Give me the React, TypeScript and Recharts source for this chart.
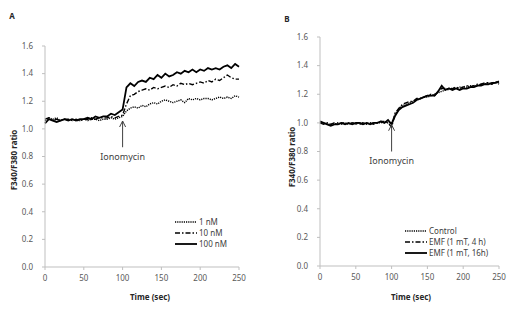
import { LineChart, Line, XAxis, YAxis, ReferenceLine, ReferenceDot, Legend } from 'recharts';

const time = [
  0, 5, 10, 15, 20, 25, 30, 35, 40, 45, 50, 55, 60, 65, 70, 75, 80, 85, 90, 95, 100,
  105, 110, 115, 120, 125, 130, 135, 140, 145, 150, 155, 160, 165, 170, 175, 180, 185, 190, 195, 200,
  205, 210, 215, 220, 225, 230, 235, 240, 245, 250,
];

// panel A: ionomycin doses
const nM1 = [
  1.06, 1.08, 1.07, 1.08, 1.06, 1.07, 1.06, 1.07, 1.06, 1.06, 1.07, 1.06, 1.07, 1.07, 1.06, 1.07, 1.07, 1.08, 1.07, 1.08, 1.09,
  1.13, 1.15, 1.16, 1.15, 1.17, 1.16, 1.18, 1.19, 1.18, 1.2, 1.21, 1.2, 1.19, 1.2, 1.21, 1.19, 1.22, 1.21, 1.22, 1.21,
  1.22, 1.22, 1.21, 1.22, 1.23, 1.22, 1.23, 1.22, 1.24, 1.23,
];
const nM10 = [
  1.07, 1.08, 1.06, 1.07, 1.06, 1.07, 1.07, 1.06, 1.07, 1.06, 1.07, 1.07, 1.08, 1.07, 1.08, 1.08, 1.08, 1.09, 1.08, 1.09, 1.1,
  1.18, 1.24, 1.25, 1.27, 1.28, 1.29, 1.28, 1.3, 1.29, 1.3, 1.31, 1.3, 1.32, 1.31, 1.33, 1.32, 1.33, 1.32, 1.33, 1.34,
  1.33, 1.35, 1.34, 1.36, 1.35, 1.37, 1.39, 1.37, 1.36, 1.36,
];
const nM100 = [
  1.04, 1.07, 1.06, 1.05, 1.06, 1.07, 1.06, 1.07, 1.06, 1.07, 1.07, 1.08, 1.07, 1.09, 1.08, 1.09, 1.09, 1.11, 1.1, 1.12, 1.14,
  1.3, 1.33, 1.31, 1.34, 1.35, 1.34, 1.37, 1.36, 1.39, 1.37, 1.4, 1.38, 1.39, 1.41, 1.4, 1.42, 1.41, 1.43, 1.41, 1.43,
  1.42, 1.44, 1.43, 1.44, 1.43, 1.45, 1.46, 1.44, 1.47, 1.45,
];

// panel B: EMF exposure
const control = [
  1.0, 1.0, 0.99, 0.99, 0.99, 1.0, 0.99, 1.0, 0.99, 1.0, 0.99, 1.0, 1.0, 0.99, 1.0, 1.0, 1.0, 1.0, 1.01, 1.0, 1.0,
  1.06, 1.1, 1.12, 1.13, 1.14, 1.15, 1.16, 1.17, 1.18, 1.18, 1.19, 1.2, 1.21, 1.22, 1.23, 1.24, 1.24, 1.24, 1.25, 1.25,
  1.25, 1.26, 1.26, 1.26, 1.27, 1.27, 1.28, 1.27, 1.28, 1.28,
];
const emf4h = [
  1.0, 0.99, 1.0, 0.99, 1.0, 0.99, 1.0, 1.0, 0.99, 1.0, 1.0, 0.99, 1.0, 1.0, 1.0, 0.99, 1.0, 1.01, 1.01, 1.0, 0.97,
  1.07, 1.1, 1.13, 1.14, 1.15, 1.15, 1.17, 1.17, 1.18, 1.19, 1.2, 1.19, 1.22, 1.24, 1.24, 1.23, 1.24, 1.25, 1.24, 1.25,
  1.26, 1.25, 1.26, 1.27, 1.27, 1.28, 1.28, 1.27, 1.29, 1.27,
];
const emf16h = [
  1.01, 1.0, 0.99, 0.98, 0.99, 0.99, 1.0, 0.99, 1.0, 0.99, 1.0, 1.0, 0.99, 1.0, 0.99, 1.0, 1.0, 1.01, 1.0, 1.02, 0.99,
  1.05, 1.09, 1.11, 1.12, 1.13, 1.14, 1.16, 1.17, 1.18, 1.19, 1.19, 1.19, 1.22, 1.26, 1.23, 1.24, 1.23, 1.24, 1.23, 1.24,
  1.24, 1.25, 1.25, 1.26, 1.26, 1.27, 1.27, 1.28, 1.28, 1.29,
];

const xTicks = [0, 50, 100, 150, 200, 250];
const yTicks = [0, 0.2, 0.4, 0.6, 0.8, 1.0, 1.2, 1.4, 1.6];
const labelsA = ['1 nM', '10 nM', '100 nM'];
const labelsB = ['Control', 'EMF (1 mT, 4 h)', 'EMF (1 mT, 16h)'];
const ionoTime = 100;

const FONT = '"Noto Sans", "DejaVu Sans", sans-serif';
const STYLES = [
  { dash: '1.2 1', width: 1.4 },
  { dash: '5 2 1.5 2', width: 1.4 },
  { dash: undefined, width: 1.8 },
];

const dataA = time.map((t, i) => ({ t, s0: nM1[i], s1: nM10[i], s2: nM100[i] }));
const dataB = time.map((t, i) => ({ t, s0: control[i], s1: emf4h[i], s2: emf16h[i] }));

const tick = { fill: '#595959', fontSize: 8, fontFamily: FONT };

function LegendBox({ labels }: { labels: string[] }) {
  return (
    <div style={{ fontFamily: FONT, fontSize: 8, color: '#404040', lineHeight: '11px' }}>
      {labels.map((l, i) => (
        <div key={l} style={{ display: 'flex', alignItems: 'center', height: 11 }}>
          <svg width={22} height={6} style={{ marginRight: 2 }}>
            <line x1={0} y1={3} x2={22} y2={3} stroke="#000" strokeWidth={STYLES[i].width} strokeDasharray={STYLES[i].dash} />
          </svg>
          <span style={{ whiteSpace: 'nowrap' }}>{l}</span>
        </div>
      ))}
    </div>
  );
}

function Panel(props: {
  data: any[];
  labels: string[];
  margin: any;
  width: number;
  legendPos: { left: number; top: number };
  arrowTop: number;
  arrowBottom: number;
  textY: number;
}) {
  const { data, labels, margin, width, legendPos, arrowTop, arrowBottom, textY } = props;
  return (
    <LineChart width={width} height={312} data={data} margin={margin}>
      <XAxis
        dataKey="t"
        type="number"
        domain={[0, 250]}
        ticks={xTicks}
        height={30}
        tick={tick}
        tickSize={3}
        tickMargin={5}
        stroke="#bfbfbf"
      />
      <YAxis
        type="number"
        domain={[0, 1.6]}
        ticks={yTicks}
        width={30}
        tick={tick}
        tickSize={3}
        tickMargin={9}
        stroke="#bfbfbf"
        tickFormatter={(v: number) => v.toFixed(1)}
      />
      {['s0', 's1', 's2'].map((k, i) => (
        <Line
          key={k}
          dataKey={k}
          name={labels[i]}
          type="linear"
          stroke="#000"
          strokeWidth={STYLES[i].width}
          strokeDasharray={STYLES[i].dash}
          dot={false}
          isAnimationActive={false}
        />
      ))}
      <ReferenceLine
        segment={[{ x: ionoTime, y: arrowBottom }, { x: ionoTime, y: arrowTop }]}
        stroke="#404040"
        strokeWidth={1}
      />
      <ReferenceDot
        x={ionoTime}
        y={arrowTop}
        r={0}
        shape={(p: any) => (
          <path d={`M${p.cx - 3},${p.cy + 6} L${p.cx},${p.cy} L${p.cx + 3},${p.cy + 6}`} stroke="#404040" fill="none" strokeWidth={1} />
        )}
      />
      <ReferenceDot
        x={ionoTime}
        y={textY}
        r={0}
        shape={(p: any) => (
          <text x={p.cx} y={p.cy} textAnchor="middle" dominantBaseline="central" fontSize={9} fontFamily={FONT} fill="#404040">
            Ionomycin
          </text>
        )}
      />
      <Legend
        layout="horizontal"
        verticalAlign="middle"
        align="center"
        content={() => <LegendBox labels={labels} />}
        wrapperStyle={{ position: 'absolute', left: legendPos.left, top: legendPos.top, width: 'auto' }}
      />
    </LineChart>
  );
}

export default function App() {
  const bold = { fontFamily: FONT, fontSize: 8, fontWeight: 700, fill: '#262626' };
  return (
    <div style={{ position: 'absolute', left: 0, top: 0, width: 515, height: 312, background: '#fff' }}>
      <div style={{ position: 'absolute', left: 0, top: 0 }}>
        <Panel
          data={dataA}
          labels={labelsA}
          width={260}
          margin={{ top: 46, right: 21, bottom: 15, left: 15 }}
          legendPos={{ left: 175, top: 216 }}
          arrowTop={1.057}
          arrowBottom={0.867}
          textY={0.8}
        />
      </div>
      <div style={{ position: 'absolute', left: 260, top: 0 }}>
        <Panel
          data={dataB}
          labels={labelsB}
          width={255}
          margin={{ top: 37, right: 16, bottom: 16, left: 30 }}
          legendPos={{ left: 145, top: 225 }}
          arrowTop={0.987}
          arrowBottom={0.8}
          textY={0.737}
        />
      </div>
      <svg width={515} height={312} style={{ position: 'absolute', left: 0, top: 0, pointerEvents: 'none' }}>
        <text x={12} y={15} {...bold} textAnchor="middle" dominantBaseline="central">A</text>
        <text x={287} y={18} {...bold} textAnchor="middle" dominantBaseline="central">B</text>
        <text x={13} y={160} {...bold} textAnchor="middle" dominantBaseline="central" transform="rotate(-90 13 160)">F340/F380 ratio</text>
        <text x={291} y={157} {...bold} textAnchor="middle" dominantBaseline="central" transform="rotate(-90 291 157)">F340/F380 ratio</text>
        <text x={150} y={296} {...bold} textAnchor="middle" dominantBaseline="central">Time (sec)</text>
        <text x={411} y={296} {...bold} textAnchor="middle" dominantBaseline="central">Time (sec)</text>
      </svg>
    </div>
  );
}
